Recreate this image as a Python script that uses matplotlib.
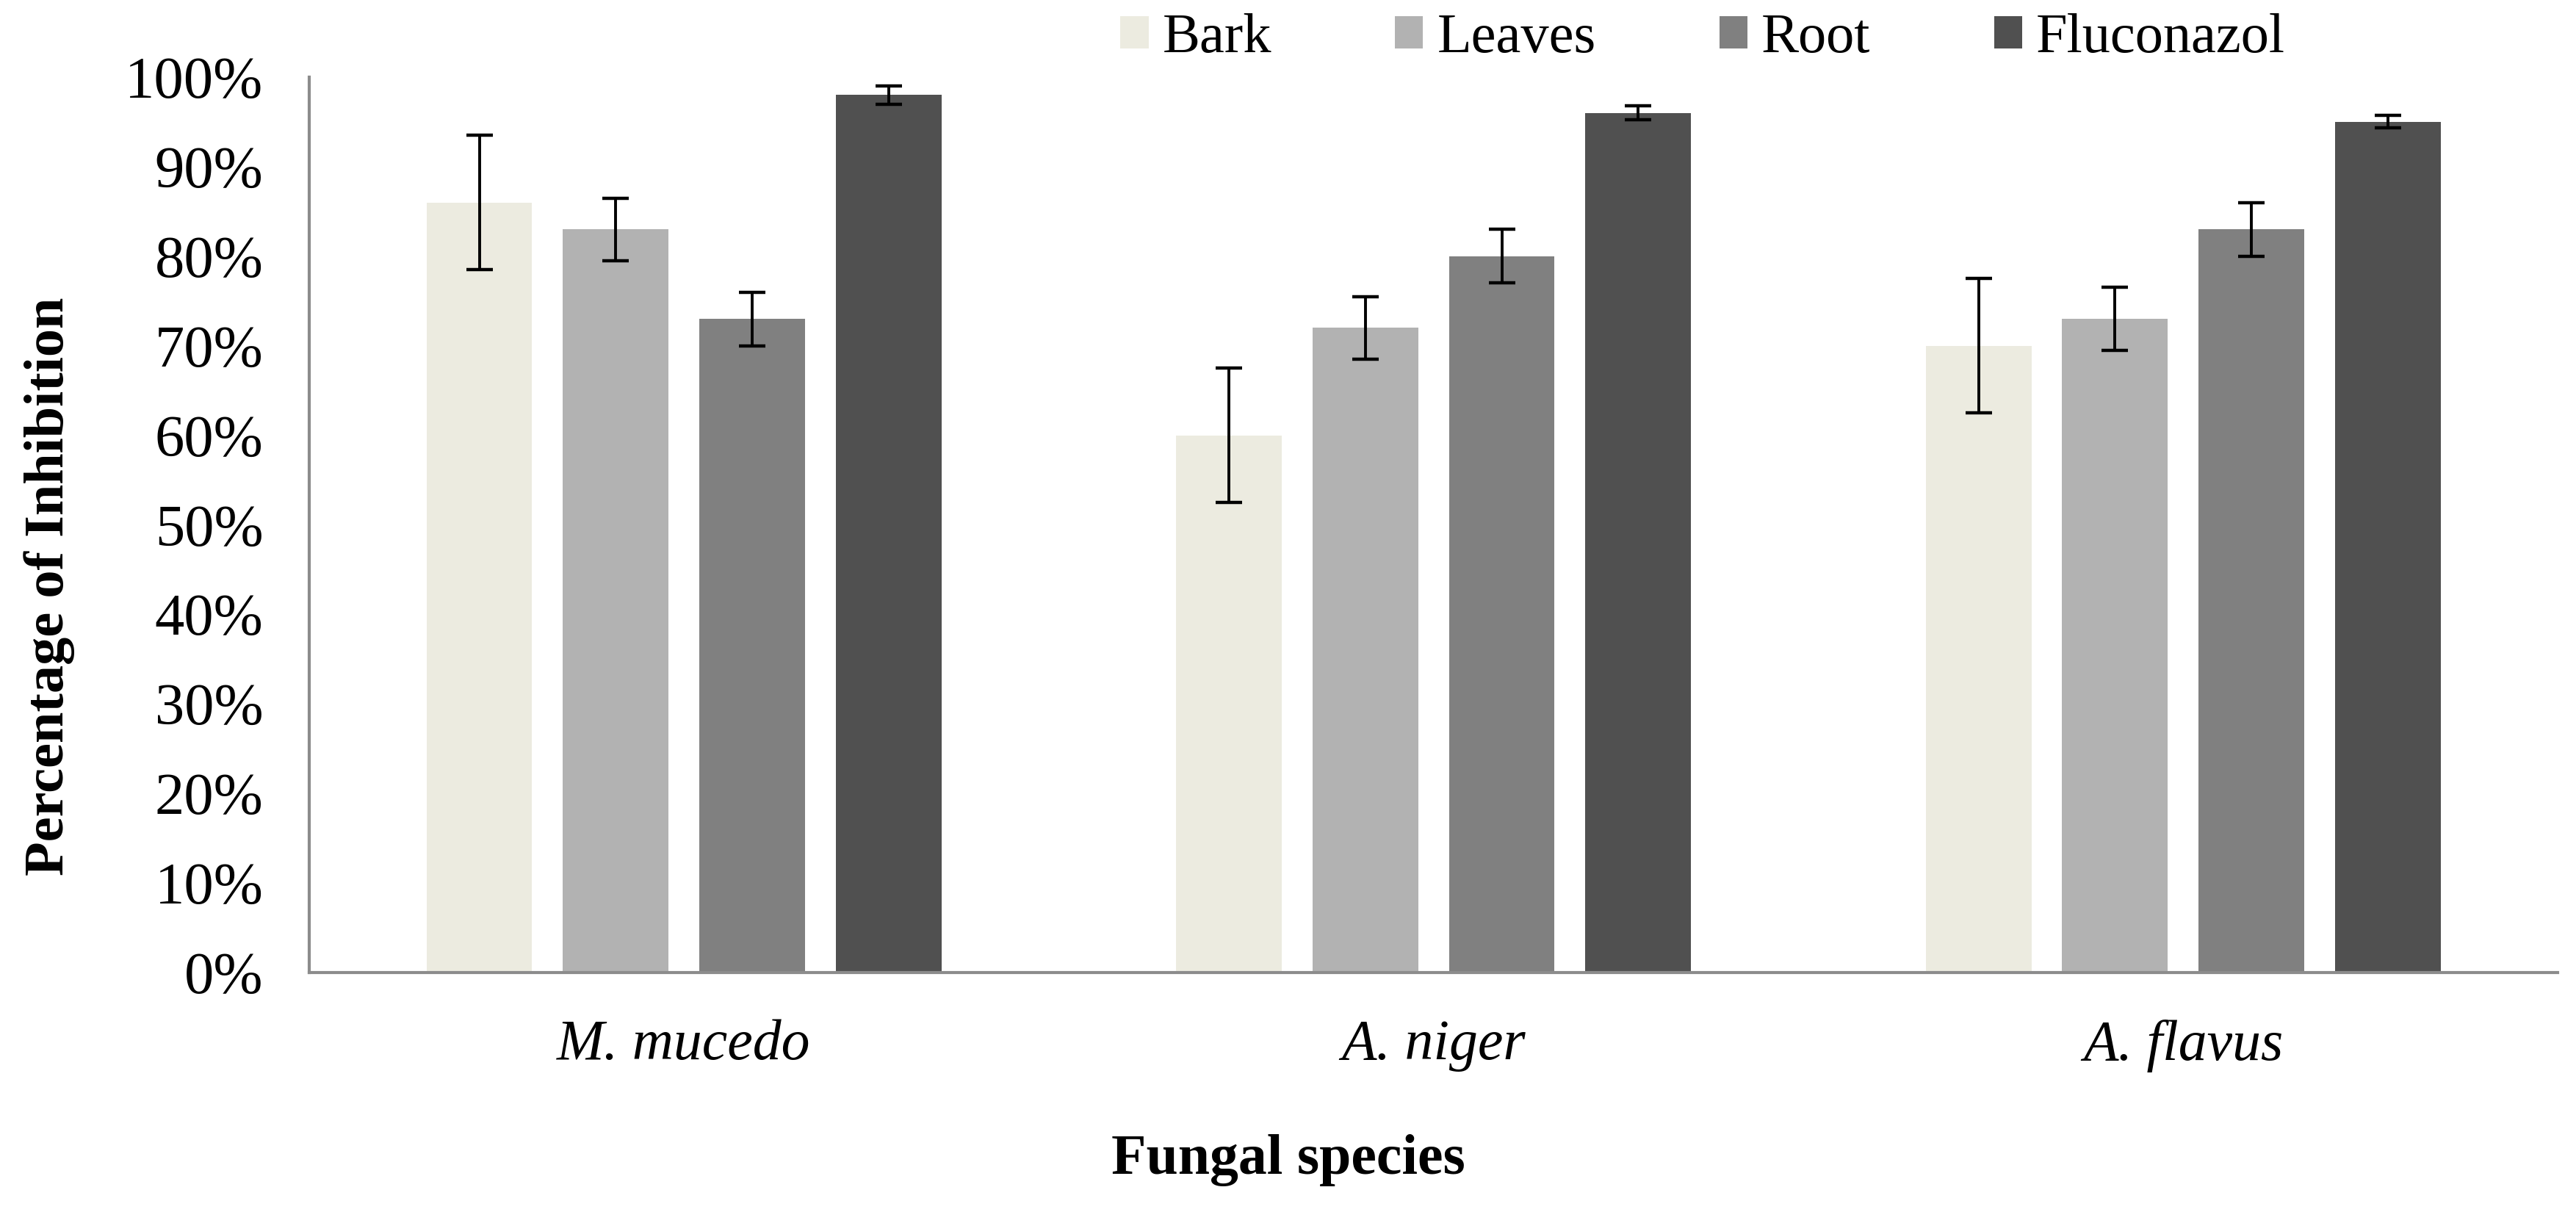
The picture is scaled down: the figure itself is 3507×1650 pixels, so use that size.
import matplotlib.pyplot as plt
import numpy as np

species = ["M. mucedo", "A. niger", "A. flavus"]
series = ["Bark", "Leaves", "Root", "Fluconazol"]
bark = [86, 60, 70]
leaves = [83, 72, 73]
root = [73, 80, 83]
fluconazol = [98, 96, 95]
bark_err = [7.5, 7.5, 7.5]
leaves_err = [3.5, 3.5, 3.5]
root_err = [3.0, 3.0, 3.0]
fluconazol_err = [1.0, 0.8, 0.7]
colours = ["#ECEBE0", "#B2B2B2", "#808080", "#505050"]

plt.rcParams['font.family'] = ['Liberation Serif', 'DejaVu Serif']

fig = plt.figure(figsize=(35.07, 16.5), dpi=100)
ax = fig.add_axes([0.120, 0.1976, 0.873, 0.7388])

x = np.arange(len(species))
width = 0.141
step = 0.182
values = [bark, leaves, root, fluconazol]
errors = [bark_err, leaves_err, root_err, fluconazol_err]
for i, (vals, errs) in enumerate(zip(values, errors)):
    pos = x + (i - 1.5) * step
    ax.bar(pos, vals, width, color=colours[i], label=series[i], zorder=2)
    ax.errorbar(pos, vals, yerr=errs, fmt='none', ecolor='black',
                elinewidth=2.8, capsize=13, capthick=3.2, zorder=3)

ax.set_xlim(-0.5, 2.5)
ax.set_ylim(0, 100)
ax.set_yticks(np.arange(0, 101, 10))
ax.set_yticklabels([f"{v}%" for v in range(0, 101, 10)])
ax.set_xticks(x)
ax.set_xticklabels(species, fontstyle='italic')
ax.tick_params(axis='y', length=0, pad=45, labelsize=58)
ax.tick_params(axis='x', length=0, pad=46, labelsize=56)

for s in ['top', 'right']:
    ax.spines[s].set_visible(False)
for s in ['left', 'bottom']:
    ax.spines[s].set_color('#8C8C8C')
    ax.spines[s].set_linewidth(3)

ax.set_ylabel("Percentage of Inhibition", fontsize=55, fontweight='bold')
ax.yaxis.set_label_coords(-0.104, 0.431)
fig.text(0.5, 0.043, "Fungal species", fontsize=56, fontweight='bold',
         ha='center', va='center')

fig.legend(loc='center', bbox_to_anchor=(0.661, 0.968), ncol=4, frameon=False,
           fontsize=55, handlelength=0.5, handleheight=0.5, handletextpad=0.25,
           columnspacing=2.2)

plt.savefig("out.png", dpi=100)
